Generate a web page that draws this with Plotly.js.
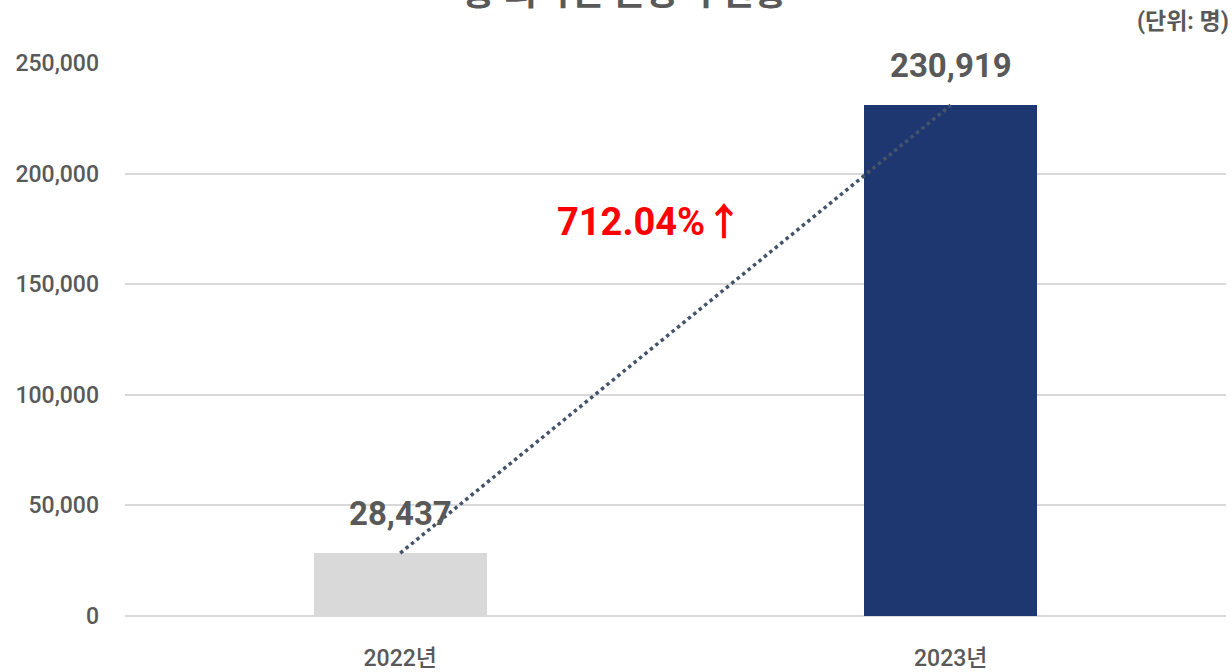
<!DOCTYPE html>
<html>
<head>
<meta charset="utf-8">
<script src="https://cdn.plot.ly/plotly-3.0.1.min.js"></script>
<style>
html,body{margin:0;padding:0;background:#fff;}
#chart{width:1232px;height:672px;}
</style>
</head>
<body>
<div id="chart"></div>
<script>
const years = ["2022년", "2023년"];
const visitors = [28437, 230919];
const barColors = ["#d9d9d9", "#1f3771"];
const growthLabel = "712.04%↑";
const titleText = "총 외국인 관광객 현황";
const unitText = "(단위: 명)";
const yTicks = [0, 50000, 100000, 150000, 200000, 250000];

const FONT = "Roboto, 'Noto Sans CJK KR', sans-serif";
const GRAY = "#595959";

const bars = {
  type: "bar",
  x: years,
  y: visitors,
  width: 0.315,
  marker: {color: barColors},
  hoverinfo: "skip"
};
const trend = {
  type: "scatter",
  mode: "lines",
  x: years,
  y: visitors,
  line: {color: "#44546a", width: 3.5, dash: "dot"},
  hoverinfo: "skip"
};

const annotations = years.map((yr, i) => ({
  x: yr, y: visitors[i], xref: "x", yref: "y",
  text: visitors[i].toLocaleString("en-US"),
  showarrow: false, yanchor: "bottom", yshift: 18,
  font: {family: FONT, size: 33, color: GRAY, weight: "bold"}
}));
annotations.push({
  xref: "paper", yref: "paper", x: 0.477, y: (616-222)/553,
  text: growthLabel, showarrow: false, xanchor: "center", yanchor: "middle",
  font: {family: FONT, size: 38, color: "#ff0000", weight: "bold"}
});
annotations.push({
  xref: "paper", yref: "paper", x: 0.454, y: 1, yanchor: "bottom", yshift: 47,
  text: titleText, showarrow: false,
  font: {family: FONT, size: 36, color: GRAY, weight: "bold"}
});
annotations.push({
  xref: "paper", yref: "paper", x: 1, y: 1, xanchor: "right", yanchor: "middle",
  xshift: 5, yshift: 42,
  text: unitText, showarrow: false,
  font: {family: FONT, size: 23, color: GRAY, weight: "bold"}
});

const layout = {
  width: 1232, height: 672,
  margin: {l: 125, r: 6, t: 63, b: 56},
  paper_bgcolor: "#ffffff", plot_bgcolor: "#ffffff",
  showlegend: false,
  bargap: 0,
  xaxis: {
    type: "category",
    tickfont: {family: FONT, size: 23, color: GRAY, weight: 500},
    showgrid: false, showline: false, ticks: "", ticklen: 0,
    zeroline: false, ticklabelstandoff: 26
  },
  yaxis: {
    range: [0, 250000],
    tickvals: yTicks,
    tickformat: ",d",
    tickfont: {family: FONT, size: 23, color: GRAY, weight: 500},
    gridcolor: "#d9d9d9", gridwidth: 2,
    zeroline: true, zerolinecolor: "#d9d9d9", zerolinewidth: 2,
    showline: false, ticks: "", ticklabelstandoff: 25
  },
  annotations: annotations
};

Plotly.newPlot("chart", [bars, trend], layout, {displayModeBar: false, staticPlot: true});
</script>
</body>
</html>
